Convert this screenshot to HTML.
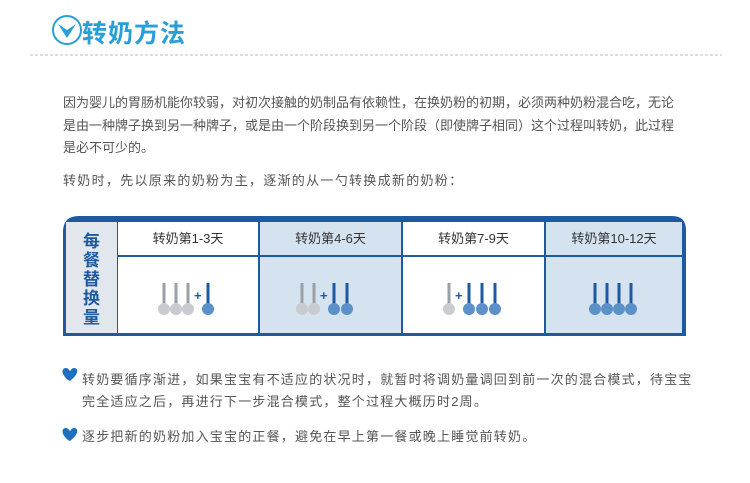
<!DOCTYPE html>
<html><head><meta charset="utf-8"><style>
body{margin:0;width:750px;height:483px;background:#fff;font-family:"Liberation Sans","Noto Sans CJK SC",sans-serif;position:relative;overflow:hidden}
.t{position:absolute;font-size:13px;color:#555;white-space:nowrap;line-height:22px}
.h{position:absolute;top:222px;height:33px;line-height:33px;text-align:center;font-size:13px;color:#333}
</style></head><body>
<svg style="position:absolute;left:0;top:0" width="750" height="483">
<circle cx="67" cy="30" r="14" fill="none" stroke="#2a9fd6" stroke-width="2"/>
<path d="M58 24 L67 38 L76 24 L67 30 Z" fill="#2a9fd6"/>
<line x1="30" y1="55" x2="722" y2="55" stroke="#bbb" stroke-dasharray="3,2"/>
<path d="M63 336 V232 Q63 216 79 216 H672 Q686 216 686 230 V336 Z" fill="#1e5aa0"/>
<rect x="66" y="222" width="51" height="111" fill="#e2e7ee"/>
<rect x="118" y="222" width="140" height="33" fill="#fff"/>
<rect x="260" y="222" width="141" height="33" fill="#d5e2f0"/>
<rect x="403" y="222" width="141" height="33" fill="#fff"/>
<rect x="546" y="222" width="136" height="33" fill="#d5e2f0"/>
<rect x="118" y="257" width="140" height="76" fill="#fff"/>
<rect x="260" y="257" width="141" height="76" fill="#d5e2f0"/>
<rect x="403" y="257" width="141" height="76" fill="#fff"/>
<rect x="546" y="257" width="136" height="76" fill="#d5e2f0"/>
<defs>
<g id="g"><rect x="-1.5" y="0" width="3" height="24" fill="#9aa0a6"/><circle cx="0" cy="26" r="6" fill="#c8ccd0"/></g>
<g id="b"><rect x="-1.5" y="0" width="3" height="24" fill="#1e5aa0"/><circle cx="0" cy="26" r="6" fill="#5b90c8"/></g>
</defs>
<g transform="translate(0,283)">
<use href="#g" x="164"/><use href="#g" x="176"/><use href="#g" x="188"/><text x="194" y="17" font-size="13" font-weight="bold" fill="#1e5aa0">+</text><use href="#b" x="208"/>
<use href="#g" x="302"/><use href="#g" x="314"/><text x="320" y="17" font-size="13" font-weight="bold" fill="#1e5aa0">+</text><use href="#b" x="334"/><use href="#b" x="347"/>
<use href="#g" x="449"/><text x="455" y="17" font-size="13" font-weight="bold" fill="#1e5aa0">+</text><use href="#b" x="469"/><use href="#b" x="482"/><use href="#b" x="495"/>
<use href="#b" x="595"/><use href="#b" x="607"/><use href="#b" x="619"/><use href="#b" x="631"/>
</g>
<path d="M68 380 C60 373 62 368 66 368 C68 368 69 370 70 371 C71 370 72 368 74 368 C78 368 80 373 70 381 Z" fill="#1e6fc0"/>
<path d="M68 440 C60 433 62 428 66 428 C68 428 69 430 70 431 C71 430 72 428 74 428 C78 428 80 433 70 441 Z" fill="#1e6fc0"/>
</svg>
<div style="position:absolute;left:82px;top:14px;font-size:25px;font-weight:bold;color:#2a9fd6;letter-spacing:1px">转奶方法</div>
<div class="t" style="left:63px;top:92px">因为婴儿的胃肠机能你较弱，对初次接触的奶制品有依赖性，在换奶粉的初期，必须两种奶粉混合吃，无论</div>
<div class="t" style="left:63px;top:115px">是由一种牌子换到另一种牌子，或是由一个阶段换到另一个阶段（即使牌子相同）这个过程叫转奶，此过程</div>
<div class="t" style="left:63px;top:137px">是必不可少的。</div>
<div class="t" style="left:63px;top:170px;letter-spacing:1.3px">转奶时，先以原来的奶粉为主，逐渐的从一勺转换成新的奶粉：</div>
<div style="position:absolute;left:66px;top:232px;width:51px;text-align:center;font-size:17px;font-weight:bold;color:#1e5aa0;line-height:19px">每<br>餐<br>替<br>换<br>量</div>
<div class="h" style="left:118px;width:140px">转奶第1-3天</div>
<div class="h" style="left:260px;width:141px">转奶第4-6天</div>
<div class="h" style="left:403px;width:141px">转奶第7-9天</div>
<div class="h" style="left:546px;width:136px">转奶第10-12天</div>
<div class="t" style="left:82px;top:369px;letter-spacing:1.2px">转奶要循序渐进，如果宝宝有不适应的状况时，就暂时将调奶量调回到前一次的混合模式，待宝宝</div>
<div class="t" style="left:82px;top:391px;letter-spacing:1.2px">完全适应之后，再进行下一步混合模式，整个过程大概历时2周。</div>
<div class="t" style="left:82px;top:426px;letter-spacing:1.2px">逐步把新的奶粉加入宝宝的正餐，避免在早上第一餐或晚上睡觉前转奶。</div>
</body></html>
